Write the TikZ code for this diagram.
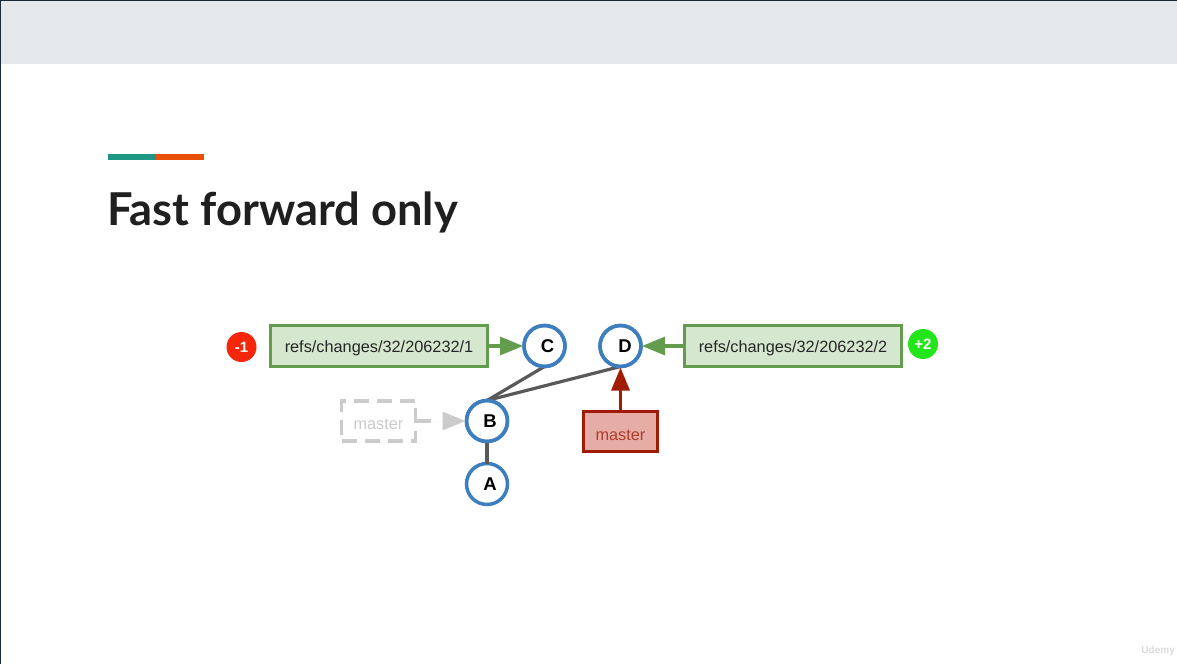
\documentclass[tikz,border=0pt]{standalone}
\usepackage{fontspec}
\setmainfont{Liberation Sans}
\newfontfamily\titlefont{Lato}
\usetikzlibrary{arrows.meta}
\definecolor{band}{HTML}{E4E8EB}
\definecolor{frameedge}{HTML}{1B2A38}
\definecolor{teal1}{HTML}{1F9583}
\definecolor{orange1}{HTML}{E8500A}
\definecolor{title1}{HTML}{1F1F1F}
\definecolor{blue1}{HTML}{3D7EBF}
\definecolor{green1}{HTML}{629C4C}
\definecolor{green2}{HTML}{D6E7CF}
\definecolor{red1}{HTML}{A01C05}
\definecolor{red2}{HTML}{E5ADA6}
\definecolor{ghost}{HTML}{CBCBCB}
\definecolor{edge1}{HTML}{595959}
\definecolor{badgered}{HTML}{F5260A}
\definecolor{badgegreen}{HTML}{22E61A}
\tikzset{
  x=1pt,y=-1pt,
  commit/.style={circle,draw=blue1,line width=3.5pt,fill=white,minimum size=41pt,inner sep=0pt,outer sep=0pt,font=\fontsize{18.5}{20}\selectfont\bfseries,text=black},
  refbox/.style={rectangle,draw=green1,fill=green2,line width=3.5pt,minimum width=217pt,minimum height=41pt,inner sep=0pt,outer sep=0pt,text height=13.4pt,text depth=0pt,font=\fontsize{16.3}{18}\selectfont,text=black!85},
  masterbox/.style={rectangle,draw=red1,fill=red2,line width=3.5pt,minimum width=74pt,minimum height=40pt,inner sep=0pt,outer sep=0pt,text height=17.8pt,text depth=0pt,font=\fontsize{16.3}{18}\selectfont,text=red1!85},
  ghostbox/.style={rectangle,draw=ghost,line width=3.5pt,dash pattern=on 15pt off 8pt,minimum width=74pt,minimum height=40pt,inner sep=0pt,outer sep=0pt,text height=17.8pt,text depth=0pt,font=\fontsize{16.3}{18}\selectfont,text=ghost},
  badge/.style={circle,minimum size=30pt,inner sep=0pt,outer sep=0pt,text=white,font=\fontsize{15}{16}\selectfont\bfseries},
  tree/.style={draw=edge1,line width=3.2pt},
  pointer/.style={line width=3.2pt,-{Triangle[length=23pt,width=18pt]},shorten >=1pt},
}
\begin{document}
\begin{tikzpicture}
\useasboundingbox (0,0) rectangle (1177,664);
\fill[white] (0,0) rectangle (1177,664);
\fill[band] (0,0) rectangle (1177,64);
\fill[frameedge] (0,0) rectangle (1177,1);
\fill[frameedge] (0,0) rectangle (1,664);
\fill[teal1] (108,154) rectangle (156,160);
\fill[orange1] (156,154) rectangle (204,160);
\node[anchor=base west,inner sep=0pt,text=title1,font=\titlefont\fontsize{45.3}{50}\selectfont\bfseries] (title) at (107,225) {Fast forward only};

\node[commit] (A) at (487,484) {\hspace*{6pt}A};
\node[commit] (B) at (487,421) {\hspace*{6pt}B};
\node[commit] (C) at (544.5,346) {\hspace*{6pt}C};
\node[commit] (D) at (620.5,346) {\hspace*{9pt}D};

\node[refbox] (r1) at (379,346) {refs/changes/32/206232/1};
\node[refbox] (r2) at (793,346) {refs/changes/32/206232/2};
\node[masterbox] (m) at (620.5,431.5) {master};
\node[ghostbox] (g) at (378.5,421) {master};
\node[badge,fill=badgered] (b1) at (241.5,347) {-1};
\node[badge,fill=badgegreen] (b2) at (923,344) {+2};

\draw[tree] (A) -- (B);
\draw[tree] (C.south) -- (B.north);
\draw[tree] (D.south) -- (B.north);
\node[commit,fill=none] at (B) {};
\node[commit,fill=none] at (C) {};
\node[commit,fill=none] at (D) {};

\draw[pointer,draw=green1,fill=green1] (r1) -- (C);
\draw[pointer,draw=green1,fill=green1] (r2) -- (D);
\draw[pointer,draw=red1,fill=red1] (m) -- (D);
\draw[pointer,draw=ghost,fill=ghost,dash pattern=on 15pt off 30pt] (g) -- (B);

\node[anchor=east,inner sep=0pt,text=black!14,font=\fontsize{10}{10}\selectfont\bfseries] (w) at (1175,651) {Udemy};
\end{tikzpicture}
\end{document}
